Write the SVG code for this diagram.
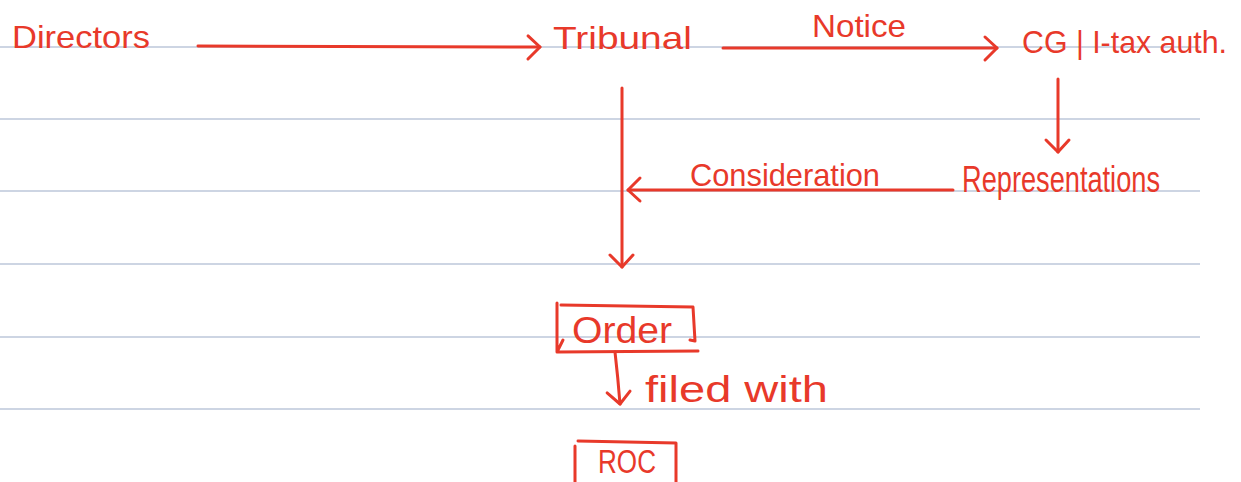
<svg xmlns="http://www.w3.org/2000/svg" width="1241" height="482" viewBox="0 0 1241 482">
  <style>
    .rule { stroke: #bcc7da; stroke-width: 1.5; }
    .ink { fill: none; stroke: #e8392a; stroke-width: 3; stroke-linecap: round; stroke-linejoin: round; }
    .lbl { fill: #e8392a; font-family: "Liberation Sans Narrow", "Liberation Sans", sans-serif; }
  </style>
  <defs>
    <marker id="head" markerUnits="userSpaceOnUse" markerWidth="30" markerHeight="30" viewBox="-16 -15 20 30" refX="0" refY="0" orient="auto" overflow="visible">
      <path d="M-12,-11 L0,0 L-12,12" fill="none" stroke="#e8392a" stroke-width="3" stroke-linecap="round" stroke-linejoin="round"/>
    </marker>
  </defs>

  <!-- ruled notebook lines -->
  <g id="ruling">
    <line class="rule" x1="0" y1="47" x2="1200" y2="47"/>
    <line class="rule" x1="0" y1="119" x2="1200" y2="119"/>
    <line class="rule" x1="0" y1="191" x2="1200" y2="191"/>
    <line class="rule" x1="0" y1="264" x2="1200" y2="264"/>
    <line class="rule" x1="0" y1="337" x2="1200" y2="337"/>
    <line class="rule" x1="0" y1="409" x2="1200" y2="409"/>
  </g>

  <!-- connectors -->
  <g id="connectors">
    <line class="ink" x1="198" y1="46" x2="540" y2="47" marker-end="url(#head)"/>
    <line class="ink" x1="723" y1="48" x2="997" y2="48" marker-end="url(#head)"/>
    <text class="lbl" x="812" y="37" font-size="32" textLength="94" lengthAdjust="spacingAndGlyphs">Notice</text>
    <line class="ink" x1="622" y1="88" x2="622" y2="267" marker-end="url(#head)"/>
    <line class="ink" x1="1058" y1="79" x2="1058" y2="152" marker-end="url(#head)"/>
    <line class="ink" x1="953" y1="190" x2="628" y2="190" marker-end="url(#head)"/>
    <text class="lbl" x="690" y="186" font-size="32" textLength="190" lengthAdjust="spacingAndGlyphs">Consideration</text>
    <path class="ink" d="M615,352 Q618,378 620,404" marker-end="url(#head)"/>
    <text class="lbl" x="645" y="402" font-size="36" textLength="183" lengthAdjust="spacingAndGlyphs">filed with</text>
  </g>

  <g id="directors">
    <text class="lbl" x="12" y="48" font-size="32" textLength="138" lengthAdjust="spacingAndGlyphs">Directors</text>
  </g>

  <g id="tribunal">
    <text class="lbl" x="553" y="49" font-size="32" textLength="139" lengthAdjust="spacingAndGlyphs">Tribunal</text>
  </g>

  <g id="cg-tax-authority">
    <text class="lbl" x="1022" y="53" font-size="32" textLength="205" lengthAdjust="spacingAndGlyphs">CG | I-tax auth.</text>
  </g>

  <g id="representations">
    <text class="lbl" x="962" y="192" font-size="36" textLength="198" lengthAdjust="spacingAndGlyphs">Representations</text>
  </g>

  <g id="order">
    <path class="ink" d="M561,305 L693,307 L695,341 L690,340 M558,352 L698,351 M557,303 L557,352 L563,340"/>
    <text class="lbl" x="572" y="343" font-size="36" textLength="100" lengthAdjust="spacingAndGlyphs">Order</text>
  </g>

  <g id="roc">
    <path class="ink" d="M575,482 L575,446 M578,441 L676,443 L676,482"/>
    <text class="lbl" x="598" y="473" font-size="34" textLength="58" lengthAdjust="spacingAndGlyphs">ROC</text>
  </g>
</svg>
